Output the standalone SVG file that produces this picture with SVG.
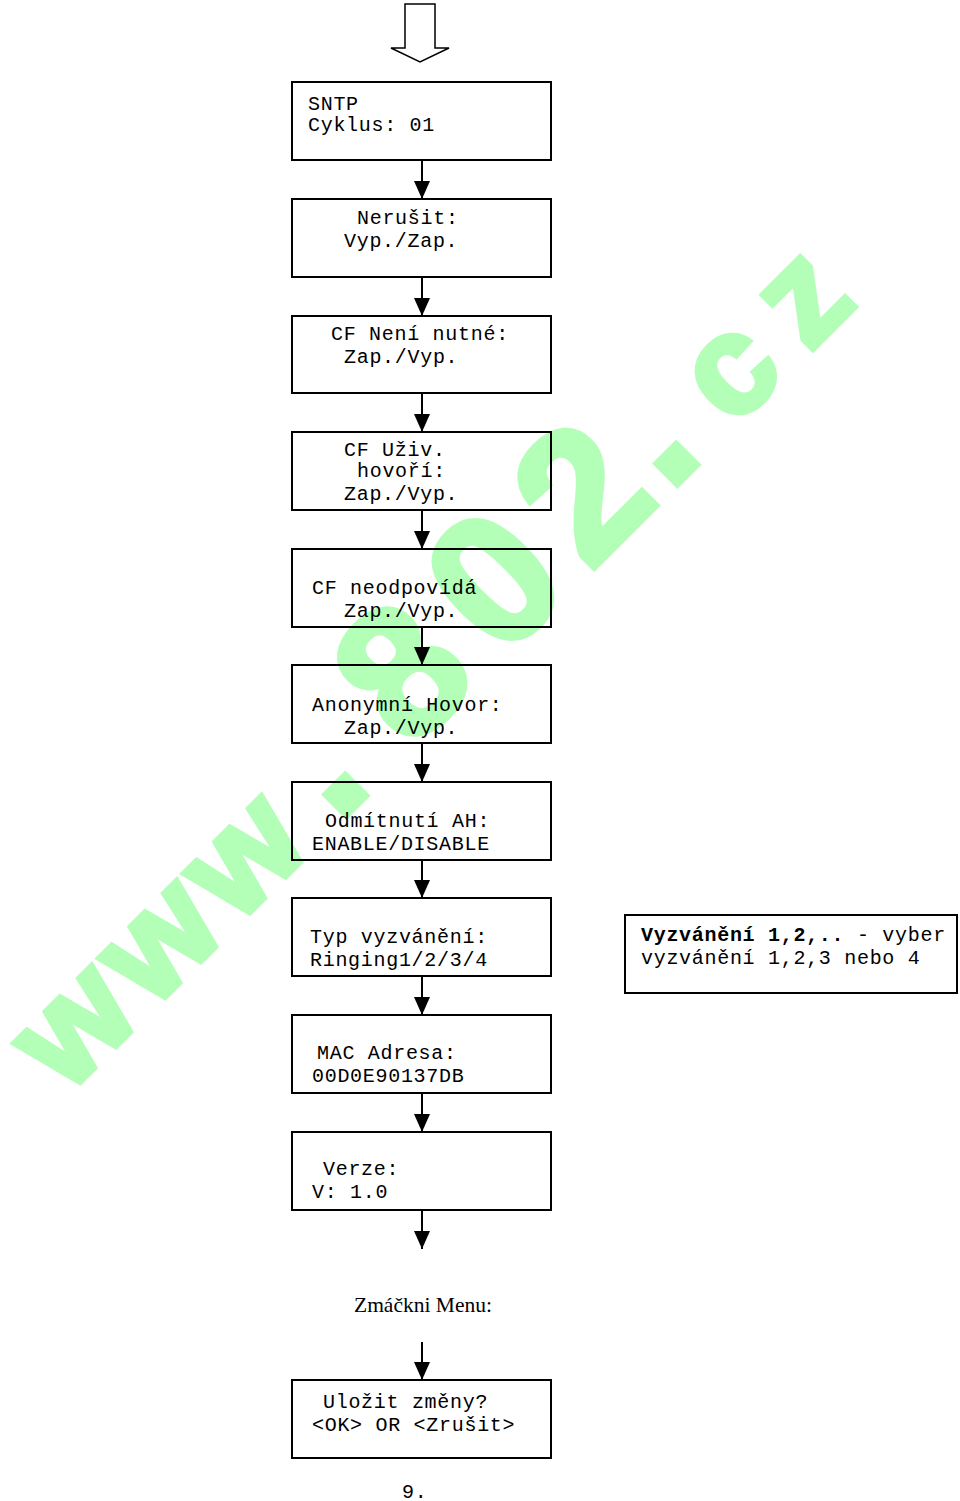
<svg xmlns="http://www.w3.org/2000/svg" width="960" height="1501" viewBox="0 0 960 1501">
<style>
.box{fill:none;stroke:#000;stroke-width:2}
.t{font-family:"Liberation Mono","Courier New",monospace;font-size:20px;letter-spacing:0.7px;fill:#000}
.c{stroke:#000;stroke-width:2;fill:none}
.wm{font-family:"Liberation Sans",Arial,sans-serif;font-weight:bold;fill:#b3ffb8;stroke:#b3ffb8;stroke-width:6;text-anchor:middle}
</style>
<defs>
<marker id="ah" markerUnits="userSpaceOnUse" markerWidth="18" markerHeight="16" refX="18" refY="8" orient="auto" viewBox="0 0 18 16"><path d="M0,0 L18,8 L0,16 z" fill="#000"/></marker>
</defs>
<rect width="960" height="1501" fill="#fff"/>
<g id="watermark" transform="translate(70,1092) rotate(-45)">
<text class="wm" font-size="140" x="50 170 290" y="0">www</text>
<text class="wm" font-size="200" x="405" y="0">.</text>
<text class="wm" font-size="183" x="532 662 786" y="0">802</text>
<text class="wm" font-size="200" x="873" y="0">.</text>
<text class="wm" font-size="140" x="977 1080" y="0">cz</text>
</g>
<g id="start-arrow"><path d="M405,4 H435 V48 H449 L420,62 L391,48 H405 Z" fill="#fff" stroke="#000" stroke-width="1.5"/></g>
<g id="connectors">
<line class="c" x1="422" y1="160" x2="422" y2="199" marker-end="url(#ah)"/>
<line class="c" x1="422" y1="277" x2="422" y2="316" marker-end="url(#ah)"/>
<line class="c" x1="422" y1="393" x2="422" y2="432" marker-end="url(#ah)"/>
<line class="c" x1="422" y1="510" x2="422" y2="549" marker-end="url(#ah)"/>
<line class="c" x1="422" y1="627" x2="422" y2="665" marker-end="url(#ah)"/>
<line class="c" x1="422" y1="743" x2="422" y2="782" marker-end="url(#ah)"/>
<line class="c" x1="422" y1="860" x2="422" y2="898" marker-end="url(#ah)"/>
<line class="c" x1="422" y1="976" x2="422" y2="1015" marker-end="url(#ah)"/>
<line class="c" x1="422" y1="1093" x2="422" y2="1132" marker-end="url(#ah)"/>
<line class="c" x1="422" y1="1210" x2="422" y2="1249" marker-end="url(#ah)"/>
<line class="c" x1="422" y1="1342" x2="422" y2="1380" marker-end="url(#ah)"/>
</g>
<g id="n1"><rect class="box" x="292" y="82" width="259" height="78"/><text class="t" x="308" y="110">SNTP</text><text class="t" x="308" y="131">Cyklus: 01</text></g>
<g id="n2"><rect class="box" x="292" y="199" width="259" height="78"/><text class="t" x="357" y="224">Nerušit:</text><text class="t" x="344" y="247">Vyp./Zap.</text></g>
<g id="n3"><rect class="box" x="292" y="316" width="259" height="77"/><text class="t" x="331" y="340">CF Není nutné:</text><text class="t" x="344" y="363">Zap./Vyp.</text></g>
<g id="n4"><rect class="box" x="292" y="432" width="259" height="78"/><text class="t" x="344" y="456">CF Uživ.</text><text class="t" x="357" y="477">hovoří:</text><text class="t" x="344" y="500">Zap./Vyp.</text></g>
<g id="n5"><rect class="box" x="292" y="549" width="259" height="78"/><text class="t" x="312" y="594">CF neodpovídá</text><text class="t" x="344" y="617">Zap./Vyp.</text></g>
<g id="n6"><rect class="box" x="292" y="665" width="259" height="78"/><text class="t" x="312" y="711">Anonymní Hovor:</text><text class="t" x="344" y="734">Zap./Vyp.</text></g>
<g id="n7"><rect class="box" x="292" y="782" width="259" height="78"/><text class="t" x="325" y="827">Odmítnutí AH:</text><text class="t" x="312" y="850">ENABLE/DISABLE</text></g>
<g id="n8"><rect class="box" x="292" y="898" width="259" height="78"/><text class="t" x="310" y="943">Typ vyzvánění:</text><text class="t" x="310" y="966">Ringing1/2/3/4</text></g>
<g id="n9"><rect class="box" x="292" y="1015" width="259" height="78"/><text class="t" x="317" y="1059">MAC Adresa:</text><text class="t" x="312" y="1082">00D0E90137DB</text></g>
<g id="n10"><rect class="box" x="292" y="1132" width="259" height="78"/><text class="t" x="323" y="1175">Verze:</text><text class="t" x="312" y="1198">V: 1.0</text></g>
<g id="n11"><text x="354" y="1312" font-family="'Liberation Serif','Times New Roman',serif" font-size="21.5" fill="#000">Zmáčkni Menu:</text></g>
<g id="n12"><rect class="box" x="292" y="1380" width="259" height="78"/><text class="t" x="323" y="1408">Uložit změny?</text><text class="t" x="312" y="1431">&lt;OK&gt; OR &lt;Zrušit&gt;</text></g>
<g id="note"><rect class="box" x="625" y="915" width="332" height="78"/><text class="t" x="641" y="941"><tspan font-weight="bold">Vyzvánění 1,2,..</tspan> - vyber</text><text class="t" x="641" y="964">vyzvánění 1,2,3 nebo 4</text></g>
<g id="page"><text class="t" x="402" y="1498">9.</text></g>
</svg>
